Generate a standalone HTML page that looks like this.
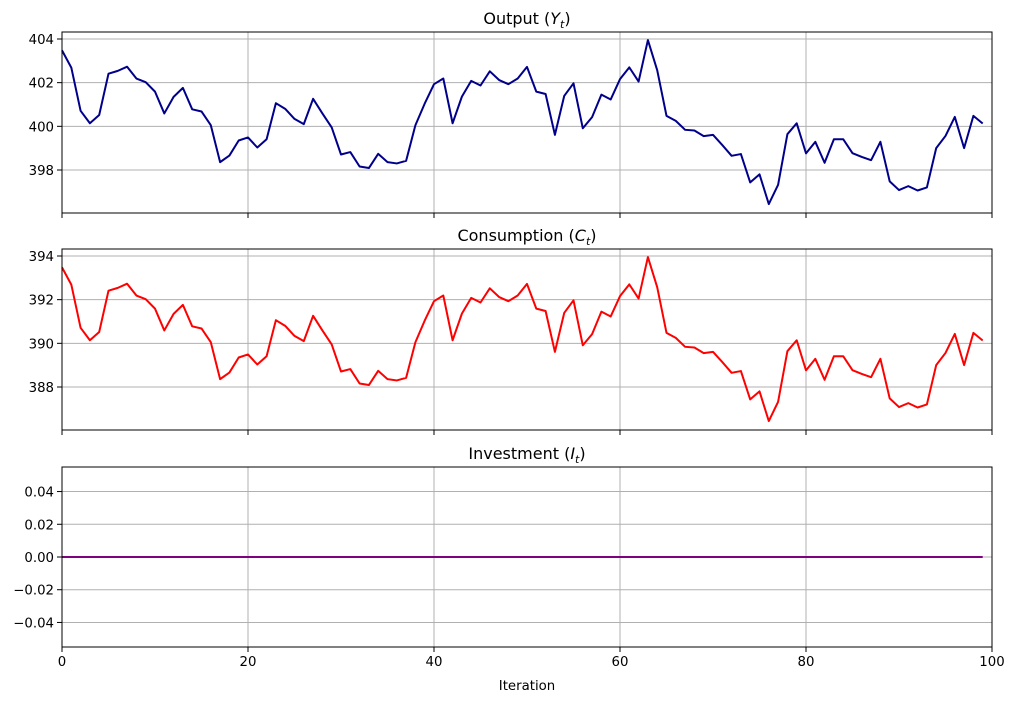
<!DOCTYPE html>
<html><head><meta charset="utf-8"><style>
body{margin:0;background:#fff;}
svg{display:block;font-family:"DejaVu Sans","Liberation Sans",sans-serif;}
</style></head><body>
<svg id="fig" width="1015" height="701" viewBox="0 0 1015 701"></svg>
<script>
const iterations = Array.from({length:100},(_,i)=>i);
const consumption = [393.48,392.69,390.71,390.14,390.52,392.41,392.54,392.73,392.19,392.02,391.59,390.59,391.35,391.76,390.78,390.68,390.05,388.36,388.66,389.35,389.49,389.03,389.41,391.06,390.80,390.34,390.10,391.26,390.59,389.95,388.71,388.82,388.16,388.09,388.74,388.36,388.30,388.42,390.05,391.04,391.93,392.19,390.14,391.36,392.08,391.87,392.52,392.12,391.93,392.19,392.72,391.59,391.48,389.61,391.39,391.97,389.91,390.42,391.45,391.23,392.16,392.70,392.05,393.95,392.57,390.48,390.25,389.84,389.81,389.55,389.61,389.14,388.65,388.73,387.43,387.80,386.44,387.32,389.64,390.14,388.76,389.29,388.33,389.41,389.41,388.77,388.60,388.45,389.29,387.48,387.08,387.26,387.06,387.20,389.00,389.56,390.43,389.00,390.48,390.13];
const output = [403.48,402.69,400.71,400.14,400.52,402.41,402.54,402.73,402.19,402.02,401.59,400.59,401.35,401.76,400.78,400.68,400.05,398.36,398.66,399.35,399.49,399.03,399.41,401.06,400.80,400.34,400.10,401.26,400.59,399.95,398.71,398.82,398.16,398.09,398.74,398.36,398.30,398.42,400.05,401.04,401.93,402.19,400.14,401.36,402.08,401.87,402.52,402.12,401.93,402.19,402.72,401.59,401.48,399.61,401.39,401.97,399.91,400.42,401.45,401.23,402.16,402.70,402.05,403.95,402.57,400.48,400.25,399.84,399.81,399.55,399.61,399.14,398.65,398.73,397.43,397.80,396.44,397.32,399.64,400.14,398.76,399.29,398.33,399.41,399.41,398.77,398.60,398.45,399.29,397.48,397.08,397.26,397.06,397.20,399.00,399.56,400.43,399.00,400.48,400.13];
const investment = new Array(100).fill(0);
const xTicks = [0,20,40,60,80,100];
const yTicksOutput = [398,400,402,404];
const yTicksCons = [388,390,392,394];
const yTicksInv = [-0.04,-0.02,0,0.02,0.04];

const NS="http://www.w3.org/2000/svg";
const svg=document.getElementById('fig');
function mk(tag,attrs,parent){const e=document.createElementNS(NS,tag);for(const k in attrs)e.setAttribute(k,attrs[k]);(parent||svg).appendChild(e);return e;}
const L=62,R=992;
const xs=v=>L+(v-0)/(100-0)*(R-L);
const minus=s=>s.replace('-','\u2212');

const panels=[
 {key:'output',title:'Output (',sym:'Y',top:32,bot:213,ymin:396.03,ymax:404.32,data:output,ticks:yTicksOutput,color:'#00008b',fmt:v=>v.toFixed(0),xlabels:false},
 {key:'consumption',title:'Consumption (',sym:'C',top:249,bot:430,ymin:386.03,ymax:394.32,data:consumption,ticks:yTicksCons,color:'#ff0000',fmt:v=>v.toFixed(0),xlabels:false},
 {key:'investment',title:'Investment (',sym:'I',top:467,bot:647,ymin:-0.055,ymax:0.055,data:investment,ticks:yTicksInv,color:'#800080',fmt:v=>minus(v.toFixed(2)),xlabels:true}
];
panels.forEach(p=>{
 const g=mk('g',{});
 
 
 const ys=v=>p.bot-(v-p.ymin)/(p.ymax-p.ymin)*(p.bot-p.top);
 xTicks.forEach(t=>{
  const gl=mk('line',{x1:xs(t),x2:xs(t),y1:p.top,y2:p.bot,stroke:'#b0b0b0','stroke-width':1},g);
  
  
  const tk=mk('line',{x1:xs(t),x2:xs(t),y1:p.bot,y2:p.bot+5,stroke:'#000','stroke-width':1},g);
  
  
  if(p.xlabels){
   const tl=mk('text',{x:xs(t),y:p.bot+19,'text-anchor':'middle','font-size':13.3},g);
   tl.textContent=t;
   
   
  }
 });
 p.ticks.forEach(t=>{
  const gl=mk('line',{x1:L,x2:R,y1:ys(t),y2:ys(t),stroke:'#b0b0b0','stroke-width':1},g);
  
  
  const tk=mk('line',{x1:L-5,x2:L,y1:ys(t),y2:ys(t),stroke:'#000','stroke-width':1},g);
  
  
  const tl=mk('text',{x:L-8,y:ys(t)+5,'text-anchor':'end','font-size':13.3},g);
  tl.textContent=p.fmt(t);
  
  
 });
 const pts=p.data.map((v,i)=>xs(iterations[i]).toFixed(2)+','+ys(v).toFixed(2)).join(' ');
 const line=mk('polyline',{points:pts,fill:'none',stroke:p.color,'stroke-width':2,'stroke-linejoin':'round'},g);
 
 
 const fr=mk('rect',{x:L,y:p.top,width:R-L,height:p.bot-p.top,fill:'none',stroke:'#000','stroke-width':1},g);
 
 
 const ti=mk('text',{x:(L+R)/2,y:p.top-8,'text-anchor':'middle','font-size':16},g);
 
 
 ti.appendChild(document.createTextNode(p.title));
 const s1=mk('tspan',{'font-style':'italic'},ti);s1.textContent=p.sym;
 const s2=mk('tspan',{'font-style':'italic','font-size':11,dy:4},ti);s2.textContent='t';
 const s3=mk('tspan',{dy:-4},ti);s3.textContent=')';
});
const xl=mk('text',{x:(L+R)/2,y:690,'text-anchor':'middle','font-size':13.3});
xl.textContent='Iteration';


</script>
</body></html>
